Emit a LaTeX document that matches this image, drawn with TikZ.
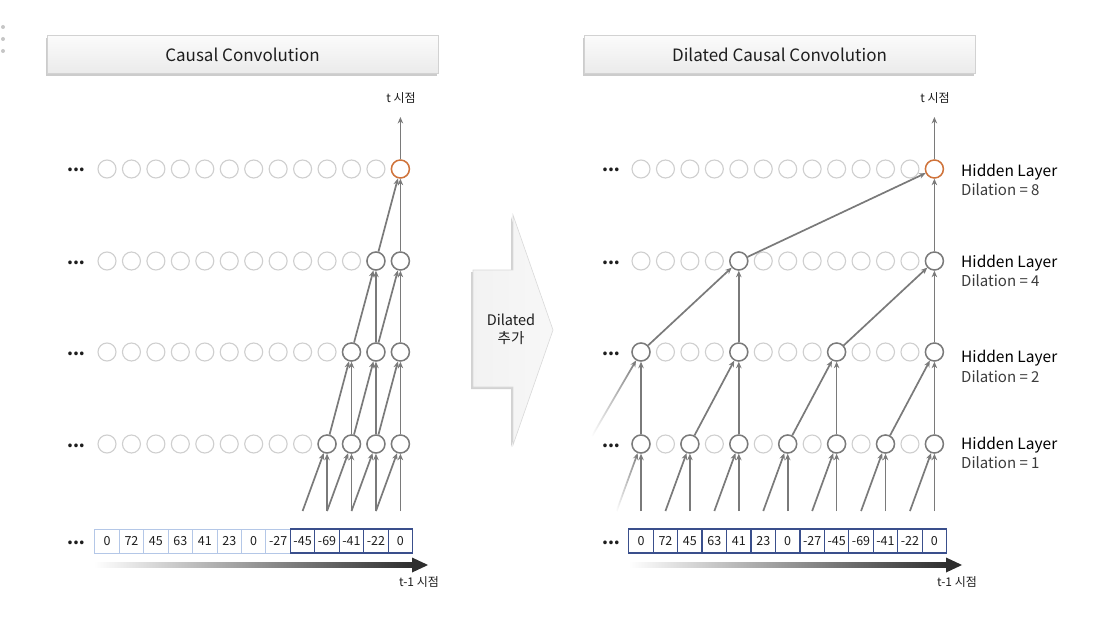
\documentclass[tikz,border=0pt]{standalone}
\usepackage{fontspec}
\setmainfont{Noto Sans CJK KR}
\usetikzlibrary{arrows.meta,shadows,fadings}
\tikzfading[name=fadeleft, left color=transparent!100, right color=transparent!0]
\definecolor{lgc}{HTML}{CFCFCF}
\definecolor{dgc}{HTML}{7A7A7A}
\definecolor{orc}{HTML}{D0733A}
\definecolor{lbc}{HTML}{B4C7E7}
\definecolor{dbc}{HTML}{3A4F8C}
\definecolor{arc}{HTML}{7A7A7A}
\definecolor{txc}{HTML}{1E1E1E}
\definecolor{dtc}{HTML}{3C3C3C}
\begin{document}
\begin{tikzpicture}[x=1pt,y=-1pt,
  lnode/.style={circle, draw=lgc, line width=1.1pt, minimum size=18pt, inner sep=0pt},
  dnode/.style={circle, draw=dgc, fill=white, line width=1.5pt, minimum size=18pt, inner sep=0pt},
  onode/.style={dnode, draw=orc},
  conn/.style={draw=arc, line width=1.7pt, -{Stealth[length=6.5pt,width=5.5pt]}},
  fconn/.style={conn, path fading=fadeleft},
  cellL/.style={draw=lbc, line width=0.9pt, minimum width=24.45pt, minimum height=24pt, inner sep=0pt, text=txc, font=\fontsize{12.5}{13}\selectfont},
  cellD/.style={cellL, draw=dbc, line width=1.3pt},
  titlebox/.style={rectangle, minimum width=391pt, minimum height=38pt, draw=gray!35, line width=0.6pt,
     top color=white!97!gray, bottom color=gray!16, text=txc, font=\fontsize{17}{20}\selectfont,
     drop shadow={opacity=0.4, shadow xshift=-0.8pt, shadow yshift=-2.8pt}},
  tlabel/.style={text=txc, font=\fontsize{12}{14}\selectfont, inner sep=0pt},
  hlabel/.style={text=black, font=\fontsize{15.5}{17}\selectfont, anchor=west, inner sep=0pt},
  dlabel/.style={text=dtc, font=\fontsize{15}{17}\selectfont, anchor=west, inner sep=0pt},
  dots/.style={text=txc, font=\fontsize{17}{17}\selectfont\bfseries, anchor=base, inner sep=0pt}
]
\useasboundingbox (0,0) rectangle (1102,628);
\fill[white] (0,0) rectangle (1102,628);

% side dots
\foreach \yy in {27,39,51} \fill[gray!45] (3,\yy) circle (2pt);

% titles
\node[titlebox] (T1) at (242.5,54.5) {Causal Convolution};
\node[titlebox] (T2) at (779.5,54.5) {Dilated Causal Convolution};

% node grids
\foreach \P/\X in {L/107,R/641}{
  \foreach \r/\Y in {1/169,2/261,3/352,4/444}{
    \foreach \c in {0,...,12}{
      \node[lnode] (\P-\r-\c) at ({\X+24.45*\c},\Y) {};
    }
  }
  \foreach \c in {-2,...,12}{ \coordinate (\P B-\c) at ({\X+24.45*\c},511); }
}

% left highlighted nodes
\node[onode] (L-1-12) at (L-1-12) {};
\foreach \c in {11,12} \node[dnode] (L-2-\c) at (L-2-\c) {};
\foreach \c in {10,11,12} \node[dnode] (L-3-\c) at (L-3-\c) {};
\foreach \c in {9,...,12} \node[dnode] (L-4-\c) at (L-4-\c) {};

% right highlighted nodes
\node[onode] (R-1-12) at (R-1-12) {};
\foreach \c in {4,12} \node[dnode] (R-2-\c) at (R-2-\c) {};
\foreach \c in {0,4,8,12} \node[dnode] (R-3-\c) at (R-3-\c) {};
\foreach \c in {0,2,...,12} \node[dnode] (R-4-\c) at (R-4-\c) {};

% left connectors
\foreach \c [evaluate=\c as \p using int(\c-1)] in {9,...,12} {
  \draw[conn] (LB-\p) -- (L-4-\c);
  \draw[conn] (LB-\c) -- (L-4-\c);
}
\foreach \c [evaluate=\c as \p using int(\c-1)] in {10,11,12} {
  \draw[conn] (L-4-\p) -- (L-3-\c);
  \draw[conn] (L-4-\c) -- (L-3-\c);
}
\foreach \c [evaluate=\c as \p using int(\c-1)] in {11,12} {
  \draw[conn] (L-3-\p) -- (L-2-\c);
  \draw[conn] (L-3-\c) -- (L-2-\c);
}
\draw[conn] (L-2-11) -- (L-1-12);
\draw[conn] (L-2-12) -- (L-1-12);
\path (L-1-12) ++(0,-52) coordinate (Ltop);
\draw[conn] (L-1-12) -- (Ltop);

% right connectors
\draw[fconn] (RB--1) -- (R-4-0);
\draw[conn] (RB-0) -- (R-4-0);
\foreach \c [evaluate=\c as \p using int(\c-1)] in {2,4,...,12} {
  \draw[conn] (RB-\p) -- (R-4-\c);
  \draw[conn] (RB-\c) -- (R-4-\c);
}
\coordinate (RF3) at ({641-49},436);
\draw[fconn] (RF3) -- (R-3-0);
\draw[conn] (R-4-0) -- (R-3-0);
\foreach \c [evaluate=\c as \p using int(\c-2)] in {4,8,12} {
  \draw[conn] (R-4-\p) -- (R-3-\c);
  \draw[conn] (R-4-\c) -- (R-3-\c);
}
\foreach \c [evaluate=\c as \p using int(\c-4)] in {4,12} {
  \draw[conn] (R-3-\p) -- (R-2-\c);
  \draw[conn] (R-3-\c) -- (R-2-\c);
}
\draw[conn] (R-2-4) -- (R-1-12);
\draw[conn] (R-2-12) -- (R-1-12);
\path (R-1-12) ++(0,-52) coordinate (Rtop);
\draw[conn] (R-1-12) -- (Rtop);

% t labels
\node[tlabel] (Lt) at (401,98) {t 시점};
\node[tlabel] (Rt) at (935,98) {t 시점};

% row dots
\foreach \X in {76,611}{
  \foreach \Y in {169,261,352,444,541} \node[dots] at (\X,{\Y+3}) {...};
}

% input cells
\foreach \v [count=\i from 0] in {0,72,45,63,41,23,0,-27,-45,-69,-41,-22,0} {
  \ifnum\i<8
    \node[cellL] (LC-\i) at ({107+24.45*\i},541) {\v};
  \else
    \node[cellD] (LC-\i) at ({107+24.45*\i},541) {\v};
  \fi
}
\foreach \v [count=\i from 0] in {0,72,45,63,41,23,0,-27,-45,-69,-41,-22,0} {
  \node[cellD] (RC-\i) at ({641+24.45*\i},541) {\v};
}

% time arrows
\shade[left color=white, right color=black!82] (94,562.5) rectangle (413,567.5);
\fill[black!82] (412,557.5) -- (428,565) -- (412,572.5) -- cycle;
\shade[left color=white, right color=black!82] (629,562.5) rectangle (947,567.5);
\fill[black!82] (946,557.5) -- (962,565) -- (946,572.5) -- cycle;
\node[tlabel] (Lt1) at (419,582) {t-1 시점};
\node[tlabel] (Rt1) at (957,582) {t-1 시점};

% layer labels
\node[hlabel] at (961,172) {Hidden Layer};
\node[dlabel] at (961,190) {Dilation = 8};
\node[hlabel] at (961,263) {Hidden Layer};
\node[dlabel] at (961,281) {Dilation = 4};
\node[hlabel] at (961,358) {Hidden Layer};
\node[dlabel] at (961,377) {Dilation = 2};
\node[hlabel] at (961,445) {Hidden Layer};
\node[dlabel] at (961,463) {Dilation = 1};

% middle arrow
\path[draw=gray!30, line width=0.6pt, left color=gray!10, right color=gray!6,
      drop shadow={opacity=0.35, shadow xshift=-2pt, shadow yshift=-2pt}]
  (473,270) -- (513,270) -- (513,215) -- (553,330) -- (513,445) -- (513,387) -- (473,387) -- cycle;
\node[text=txc, font=\fontsize{14.5}{18}\selectfont, align=center] (MA) at (511,329) {Dilated\\추가};
\end{tikzpicture}
\end{document}
